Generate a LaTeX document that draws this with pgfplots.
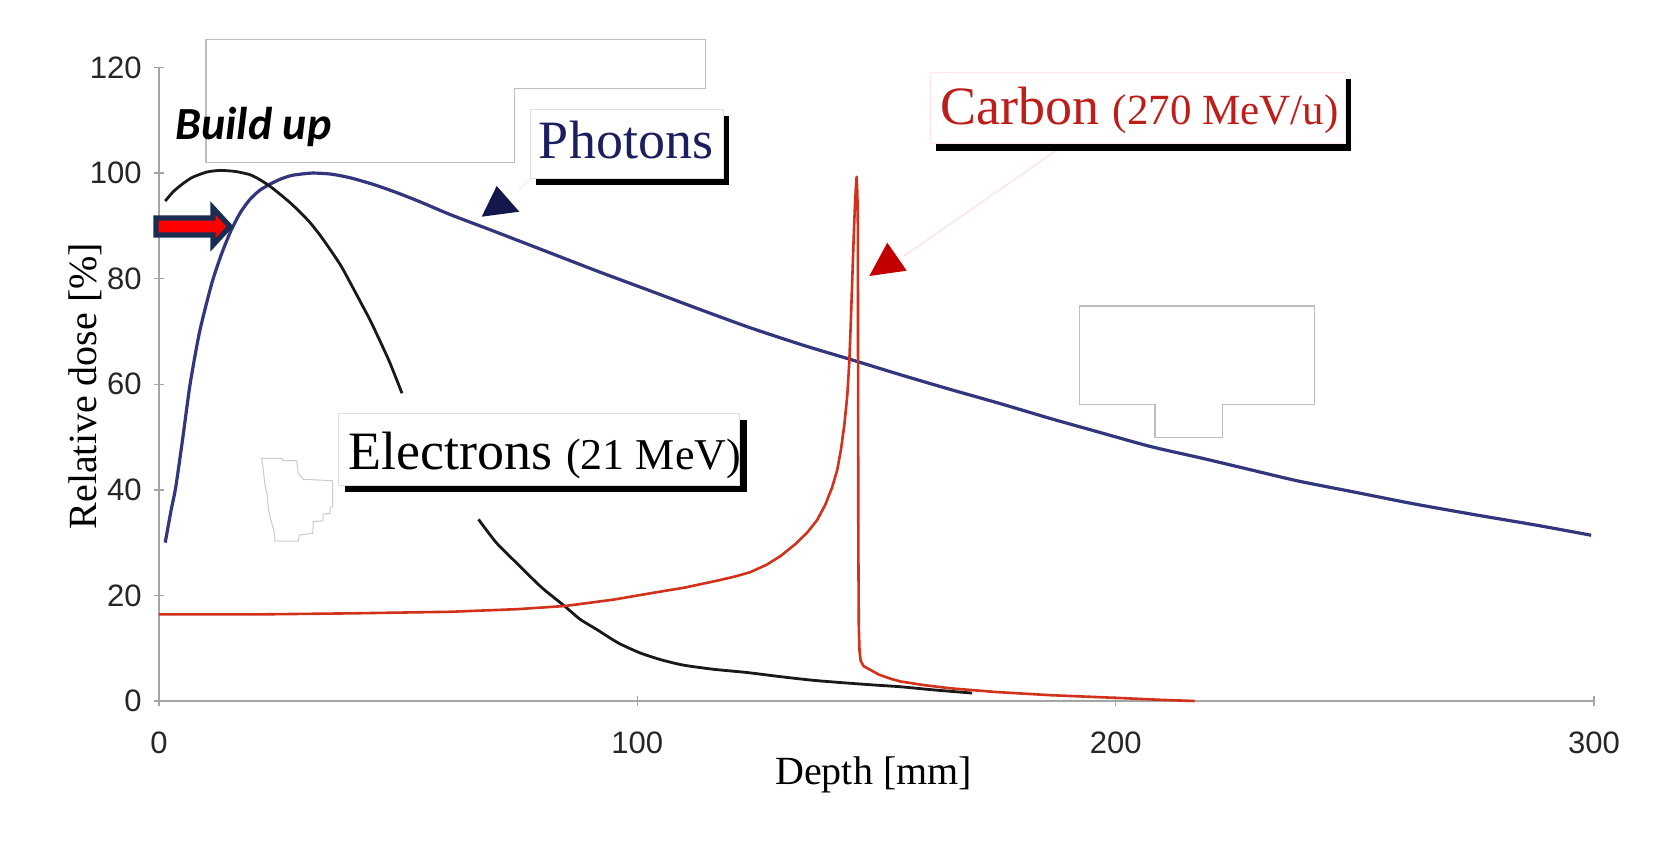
\documentclass[border=0pt]{standalone}
\usepackage{fontspec}
\setmainfont{Liberation Serif}
\setsansfont{Liberation Sans}
\newfontfamily\buildfont{Carlito}
\usepackage{pgfplots}
\pgfplotsset{compat=1.18}
\definecolor{photon}{RGB}{50,54,125}
\definecolor{photontext}{RGB}{28,30,95}
\definecolor{carbon}{RGB}{210,50,28}
\definecolor{carbontext}{RGB}{190,30,25}
\definecolor{axisgray}{RGB}{165,165,165}
\definecolor{boxgray}{RGB}{190,190,190}
\definecolor{navyarrow}{RGB}{25,45,80}
\definecolor{navytri}{RGB}{18,24,75}
\definecolor{redtri}{RGB}{195,0,0}

\pgfplotstableread{
x y
1.3 30
2.5 36
3.5 40.5
5 50
6.5 60
8.5 70
11 79
13 84.5
15 89
17 92.5
19 95
21 96.7
23.2 97.9
25.5 98.9
28 99.6
32 100
36 99.8
40 99.1
45 97.8
50 96.2
55 94.4
61 92.1
70 89
82 84.8
92 81.3
102.7 77.7
113 74.2
123.6 70.7
135 67.3
145.3 64.5
155 61.8
165.5 59
176 56.3
186.4 53.5
197 50.8
207.3 48.2
218 46
228.2 43.8
238 41.7
249.2 39.7
262 37.4
275 35.3
288 33.3
299.4 31.4
}\photons

\pgfplotstableread{
x y
1.3 94.7
3 96.5
5 98
7 99.2
10 100.2
12.8 100.5
16 100.3
19 99.7
21 98.8
23.2 97.5
25.3 96
27.4 94.4
29.5 92.6
31.6 90.6
33.7 88.2
35.8 85.5
38 82.5
40 79.2
42 75.8
44.1 72.2
46.2 68.2
48.3 64
50.8 58.3
}\electronsA

\pgfplotstableread{
x y
66.8 34.4
70.5 30
74.8 26.1
80 21.5
84.9 17.9
88 15.5
91.6 13.5
96 11
100.6 9.1
105 7.8
109.6 6.8
116 6
122.9 5.4
130 4.6
137 3.9
144.6 3.35
150 3
155 2.7
162 2.1
170 1.5
}\electronsB

\pgfplotstableread{
x y
0 16.4
20 16.4
40 16.6
60.9 16.9
75 17.4
84.9 18
95 19.2
102.7 20.4
110 21.5
116.7 22.8
120.5 23.6
123.6 24.4
127 25.8
130 27.5
133 29.7
135.5 31.9
137.6 34.3
139.3 37.2
140.7 40.4
141.8 43.8
142.6 47.8
143.3 52.5
143.9 58
144.3 64
144.6 71
144.9 79
145.2 87
145.45 93
145.7 97.5
145.85 99.3
146.0 96
146.1 90
146.15 60
146.2 30
146.3 14
146.45 9.5
146.7 7.6
147.3 6.6
148.7 5.9
150.5 5
153 4.2
155 3.7
160 3
165.5 2.4
175 1.7
186.4 1.1
200 0.6
210 0.2
216.5 0
}\carbon

\begin{document}
\begin{tikzpicture}
\path[use as bounding box, fill=white] (0,0) rectangle (835.5pt,426.5pt);
\begin{axis}[
  at={(79.5pt,76pt)}, anchor=south west,
  scale only axis, width=717.5pt, height=316.75pt,
  xmin=0, xmax=300, ymin=0, ymax=120,
  axis lines=left,
  axis line style={-, draw=axisgray, line width=0.8pt},
  xtick={0,100,200,300}, ytick={0,20,...,120},
  tick align=center, major tick length=5pt,
  tick style={draw=axisgray, line width=0.7pt},
  tick label style={font=\sffamily\fontsize{15.5}{16}\selectfont, text=black!85},
  /pgf/number format/assume math mode=true,
  yticklabel style={anchor=east, inner sep=0pt, xshift=-6pt},
  xticklabel style={anchor=north, inner sep=0pt, yshift=-12.5pt},
  xlabel={Depth [mm]}, ylabel={Relative dose [\%]},
  label style={font=\fontsize{20}{22}\selectfont},
  xlabel style={at={(axis description cs:0.498,-0.1167)}, anchor=center},
  ylabel style={at={(axis description cs:-0.0516,0.497)}, anchor=center},
  clip=false,
]
\addplot[photon, line width=1.6pt, smooth, tension=0.4] table[x=x,y=y] {\photons};
\addplot[black!90, line width=1.4pt, smooth, tension=0.4] table[x=x,y=y] {\electronsA};
\addplot[black!90, line width=1.4pt, smooth, tension=0.4] table[x=x,y=y] {\electronsB};
\addplot[carbon, line width=1.3pt, line join=round] table[x=x,y=y] {\carbon};
\end{axis}

\begin{scope}[x=0.5pt, y=-0.5pt, shift={(0,426.5pt)}]
% slide artefact outlines
\draw[boxgray, line width=0.6pt, fill=white] (206,39.5) -- (705.5,39.5) -- (705.5,88.5) -- (514.7,88.5) -- (514.7,162.5) -- (206,162.5) -- cycle;
\draw[boxgray, line width=0.6pt, fill=white] (1079.5,306) -- (1314.3,306) -- (1314.3,404.3) -- (1222.7,404.3) -- (1222.7,437.7) -- (1155,437.7) -- (1155,404.3) -- (1079.5,404.3) -- cycle;
\draw[boxgray!80, line width=0.5pt, fill=white] (261.7,458.3) -- (281.7,458.3) -- (283.3,460.7) -- (296.7,460.7) -- (298.3,473.3) -- (303.3,479.3) -- (332.7,480.7) -- (332.7,506.7) -- (330,507.3) -- (330,513.3) -- (323.3,514) -- (322.7,520.7) -- (313.3,521.7) -- (312.7,533.3) -- (299.3,535) -- (298.3,541) -- (275,541) -- (274,530) -- (270.7,520) -- (268.3,508.3) -- (267.3,495) -- (265,485) -- (263.3,470) -- cycle;

% Build up
\node[anchor=base west, inner sep=0pt, font=\buildfont\bfseries\itshape\fontsize{23}{26}\selectfont] at (175,139.5) {Build up};

% red block arrow
\draw[navyarrow, fill=red, line width=2.6pt, line join=miter] (156,218) -- (213,218) -- (213,208) -- (230,226.5) -- (213,245) -- (213,235) -- (156,235) -- cycle;

% Photons label
\draw[gray!15, line width=0.5pt] (519,190) -- (531,178);
\fill[black] (536,116) rectangle (729,185);
\draw[fill=white, draw=gray!25, line width=0.5pt] (530,110) rectangle (723,179);
\node[anchor=base, inner sep=0pt, text=photontext, font=\fontsize{27}{30}\selectfont] at (626,159) {Photons};
\fill[navytri] (481.7,216.7) -- (496.7,186) -- (519.3,211.7) -- cycle;

% Carbon label
\draw[red!12, line width=0.6pt] (904,256) -- (1057,150);
\fill[black] (936,79) rectangle (1351,151);
\draw[fill=white, draw=red!10, line width=0.5pt] (930,72.5) rectangle (1345,144);
\node[anchor=base west, inner sep=0pt, text=carbontext] at (940,125) {\fontsize{27}{30}\selectfont Carbon \fontsize{21.5}{24}\selectfont(270 MeV/u)};
\fill[redtri] (869.3,276) -- (887.3,242.7) -- (906.7,270.7) -- cycle;

% Electrons label
\fill[black] (345,420) rectangle (746.5,491.5);
\draw[fill=white, draw=gray!25, line width=0.5pt] (338.5,413.5) rectangle (739.5,485);
\node[anchor=base west, inner sep=0pt, text=black] at (348.5,469) {\fontsize{27}{30}\selectfont Electrons \fontsize{22}{24}\selectfont(21 MeV)};
\end{scope}
\end{tikzpicture}
\end{document}
